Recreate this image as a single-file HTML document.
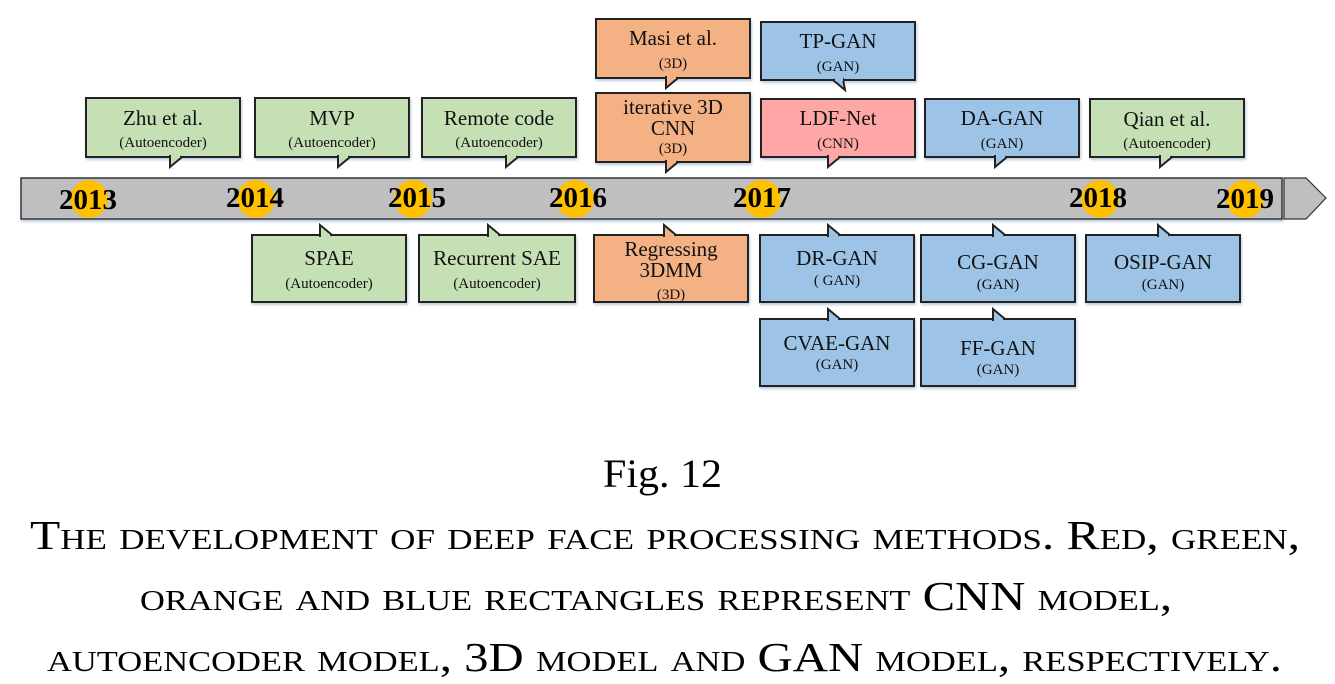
<!DOCTYPE html>
<html><head><meta charset="utf-8"><style>
html,body{margin:0;padding:0;background:#fff;}
svg{display:block;font-family:"Liberation Serif",serif;}
</style></head><body>
<svg width="1335" height="684" viewBox="0 0 1335 684" xmlns="http://www.w3.org/2000/svg">
<defs>
<filter id="sh" x="-5%" y="-5%" width="115%" height="125%"><feDropShadow dx="1" dy="2" stdDeviation="1.2" flood-color="#8fa9c8" flood-opacity="0.6"/></filter>
</defs>
<rect x="21" y="178" width="1261" height="41" fill="#bfbfbf" stroke="#333" stroke-width="1.5" filter="url(#sh)"/>
<polygon points="1284,178 1306,178 1326,198 1306,219 1284,219" fill="#bfbfbf" stroke="#333" stroke-width="1.2"/>
<g fill="#ffc000">
<circle cx="89" cy="199" r="19"/><circle cx="256" cy="199" r="19"/><circle cx="413" cy="199" r="19"/><circle cx="575" cy="199" r="19"/><circle cx="762" cy="199" r="19"/><circle cx="1100" cy="199" r="19"/><circle cx="1245" cy="199" r="19"/>
</g>
<g font-weight="bold" font-size="29" text-anchor="middle" fill="#000">
<text x="88" y="209">2013</text><text x="255" y="207">2014</text><text x="417" y="207">2015</text><text x="578" y="207">2016</text><text x="762" y="207">2017</text><text x="1098" y="207">2018</text><text x="1245" y="208">2019</text>
</g>

<g stroke="#222" stroke-width="2">
<g fill="#c5e0b4">
<rect x="86" y="98" width="154" height="59" filter="url(#sh)"/><polygon points="170,156 170,167 182,157"/>
<rect x="255" y="98" width="154" height="59" filter="url(#sh)"/><polygon points="338,156 338,167 350,157"/>
<rect x="422" y="98" width="154" height="59" filter="url(#sh)"/><polygon points="506,156 506,167 518,157"/>
<rect x="1090" y="99" width="154" height="58" filter="url(#sh)"/><polygon points="1160,156 1160,167 1172,157"/>
</g>
<g fill="#f4b183">
<rect x="596" y="19" width="154" height="59" filter="url(#sh)"/><polygon points="666,77 666,88 678,78"/>
<rect x="596" y="93" width="154" height="69" filter="url(#sh)"/><polygon points="666,161 666,172 678,162"/>
<rect x="594" y="235" width="154" height="67" filter="url(#sh)"/><polygon points="664,236 664,225 676,235"/>
</g>
<g fill="#9dc3e6">
<rect x="761" y="22" width="154" height="58" filter="url(#sh)"/><polygon points="843,79 845,90 833,80"/>
<rect x="925" y="99" width="154" height="58" filter="url(#sh)"/><polygon points="995,156 995,167 1007,157"/>
<rect x="760" y="235" width="154" height="67" filter="url(#sh)"/><polygon points="828,236 828,225 840,235"/>
<rect x="921" y="235" width="154" height="67" filter="url(#sh)"/><polygon points="993,236 993,225 1005,235"/>
<rect x="1086" y="235" width="154" height="67" filter="url(#sh)"/><polygon points="1158,236 1158,225 1170,235"/>
<rect x="760" y="319" width="154" height="67" filter="url(#sh)"/><polygon points="828,320 828,309 840,319"/>
<rect x="921" y="319" width="154" height="67" filter="url(#sh)"/><polygon points="993,320 993,309 1005,319"/>
</g>
<g fill="#ffa7a7">
<rect x="761" y="99" width="154" height="58" filter="url(#sh)"/><polygon points="828,156 828,167 840,157"/>
</g>
<g fill="#c5e0b4">
<rect x="252" y="235" width="154" height="67" filter="url(#sh)"/><polygon points="320,236 320,225 332,235"/>
<rect x="419" y="235" width="156" height="67" filter="url(#sh)"/><polygon points="488,236 488,225 500,235"/>
</g>
</g>
<g stroke-width="0">
<rect x="171" y="154" width="9" height="4" fill="#c5e0b4"/>
<rect x="339" y="154" width="9" height="4" fill="#c5e0b4"/>
<rect x="507" y="154" width="9" height="4" fill="#c5e0b4"/>
<rect x="1161" y="154" width="9" height="4" fill="#c5e0b4"/>
<rect x="667" y="75" width="9" height="4" fill="#f4b183"/>
<rect x="667" y="159" width="9" height="4" fill="#f4b183"/>
<rect x="665" y="234" width="9" height="4" fill="#f4b183"/>
<rect x="835" y="77" width="8" height="4" fill="#9dc3e6"/>
<rect x="996" y="154" width="9" height="4" fill="#9dc3e6"/>
<rect x="829" y="234" width="9" height="4" fill="#9dc3e6"/>
<rect x="994" y="234" width="9" height="4" fill="#9dc3e6"/>
<rect x="1159" y="234" width="9" height="4" fill="#9dc3e6"/>
<rect x="829" y="318" width="9" height="4" fill="#9dc3e6"/>
<rect x="994" y="318" width="9" height="4" fill="#9dc3e6"/>
<rect x="829" y="154" width="9" height="4" fill="#ffa7a7"/>
<rect x="321" y="234" width="9" height="4" fill="#c5e0b4"/>
<rect x="489" y="234" width="9" height="4" fill="#c5e0b4"/>
</g>

<g text-anchor="middle" fill="#111">
<g font-size="21">
<text x="163" y="125">Zhu et al.</text><text x="332" y="125">MVP</text><text x="499" y="125">Remote code</text><text x="1167" y="126">Qian et al.</text>
<text x="673" y="45">Masi et al.</text><text x="673" y="114">iterative 3D</text><text x="673" y="135">CNN</text>
<text x="838" y="48">TP-GAN</text><text x="838" y="125">LDF-Net</text><text x="1002" y="125">DA-GAN</text>
<text x="329" y="265">SPAE</text><text x="497" y="265">Recurrent SAE</text><text x="671" y="256">Regressing</text><text x="671" y="277">3DMM</text>
<text x="837" y="265">DR-GAN</text><text x="998" y="269">CG-GAN</text><text x="1163" y="269">OSIP-GAN</text>
<text x="837" y="350">CVAE-GAN</text><text x="998" y="355">FF-GAN</text>
</g>
<g font-size="15">
<text x="163" y="147">(Autoencoder)</text><text x="332" y="147">(Autoencoder)</text><text x="499" y="147">(Autoencoder)</text><text x="1167" y="148">(Autoencoder)</text>
<text x="673" y="68">(3D)</text><text x="673" y="153">(3D)</text>
<text x="838" y="71">(GAN)</text><text x="838" y="148">(CNN)</text><text x="1002" y="148">(GAN)</text>
<text x="329" y="288">(Autoencoder)</text><text x="497" y="288">(Autoencoder)</text><text x="671" y="299">(3D)</text>
<text x="837" y="285">( GAN)</text><text x="998" y="289">(GAN)</text><text x="1163" y="289">(GAN)</text>
<text x="837" y="369">(GAN)</text><text x="998" y="374">(GAN)</text>
</g>
</g>

<g fill="#000">
<text x="603" y="487" font-size="40" textLength="119" lengthAdjust="spacingAndGlyphs">Fig. 12</text>
<text x="30" y="549" font-size="41" font-variant="small-caps" textLength="1270" lengthAdjust="spacingAndGlyphs">The development of deep face processing methods. Red, green,</text>
<text x="140" y="610" font-size="41" font-variant="small-caps" textLength="1032" lengthAdjust="spacingAndGlyphs">orange and blue rectangles represent CNN model,</text>
<text x="47" y="671" font-size="41" font-variant="small-caps" textLength="1235" lengthAdjust="spacingAndGlyphs">autoencoder model, 3D model and GAN model, respectively.</text>
</g>
</svg>
</body></html>
